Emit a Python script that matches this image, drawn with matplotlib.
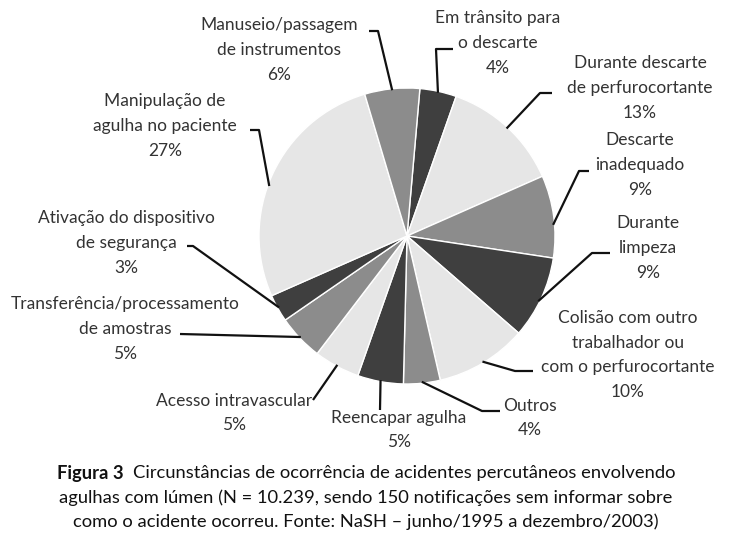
"""Pie chart: circumstances of percutaneous injuries with hollow-bore needles."""

import numpy as np
import matplotlib
matplotlib.use("Agg")
import matplotlib.pyplot as plt

W, H = 731, 544

labels = [
    "Em trânsito para\no descarte\n4%",
    "Durante descarte\nde perfurocortante\n13%",
    "Descarte\ninadequado\n9%",
    "Durante\nlimpeza\n9%",
    "Colisão com outro\ntrabalhador ou\ncom o perfurocortante\n10%",
    "Outros\n4%",
    "Reencapar agulha\n5%",
    "Acesso intravascular\n5%",
    "Transferência/processamento\nde amostras\n5%",
    "Ativação do dispositivo\nde segurança\n3%",
    "Manipulação de\nagulha no paciente\n27%",
    "Manuseio/passagem\nde instrumentos\n6%",
]
values = [4, 13, 9, 9, 10, 4, 5, 5, 5, 3, 27, 6]
shades = ["dark", "light", "medium", "dark", "light", "medium",
          "dark", "light", "medium", "dark", "light", "medium"]

palette = {"light": "#e6e6e6", "medium": "#8c8c8c", "dark": "#3f3f3f"}

# layout in image pixels (x, y from top)
center = (407, 236)
radius = 148
start_angle = 85
# text centre, elbow point, end of the short horizontal tick (None = no tick),
# and where along the wedge (0..1) the leader touches it
label_layout = [
    ((498, 43), (436, 49), (453, 49), 0.5),
    ((640, 88), (540, 93), (552, 93), 0.5),
    ((640, 165), (579, 171), (589, 171), 0.4),
    ((648, 248), (592, 253), (610, 253), 0.45),
    ((628, 355), (515, 371), (533, 371), 0.5),
    ((530, 418), (482, 411), (500, 411), 0.5),
    ((399, 430), (380, 410), None, 0.5),
    ((234, 413), (313, 400), None, 0.5),
    ((125, 329), (180, 334), None, 0.5),
    ((126, 243), (193, 246), (187, 246), 0.5),
    ((165, 126), (259, 130), (250, 130), 0.55),
    ((279, 50), (378, 31), (369, 31), 0.5),
]

plt.rcParams["font.family"] = ["Lato", "DejaVu Sans"]


def img(x, y):
    return x, H - y


fig = plt.figure(figsize=(W / 100, H / 100), dpi=100)
ax = fig.add_axes([0, 0, 1, 1])

wedges, _ = ax.pie(
    values,
    colors=[palette[s] for s in shades],
    startangle=start_angle,
    counterclock=False,
    center=img(*center),
    radius=radius,
    wedgeprops=dict(edgecolor="white", linewidth=1),
    frame=True,
)
ax.set_xlim(0, W)
ax.set_ylim(0, H)
ax.set_aspect("equal")
ax.axis("off")

cx, cy = img(*center)
for w, lab, (txt, elbow, tick, frac) in zip(wedges, labels, label_layout):
    ang = np.deg2rad(w.theta1 + frac * (w.theta2 - w.theta1))
    ex, ey = cx + radius * 0.99 * np.cos(ang), cy + radius * 0.99 * np.sin(ang)
    pts = [(ex, ey), img(*elbow)]
    if tick is not None:
        pts.append(img(*tick))
    xs, ys = zip(*pts)
    ax.plot(xs, ys, color="#111111", lw=1.6, solid_capstyle="butt")
    ax.text(*img(*txt), lab, ha="center", va="center", fontsize=12.5,
            color="#333333", linespacing=1.68)

# caption
cap_lines = [
    "Circunstâncias de ocorrência de acidentes percutâneos envolvendo",
    "agulhas com lúmen (N = 10.239, sendo 150 notificações sem informar sobre",
    "como o acidente ocorreu. Fonte: NaSH – junho/1995 a dezembro/2003)",
]
cap_y = [473, 498, 522]
fs_cap = 13.2
renderer = fig.canvas.get_renderer()
bold = ax.text(0, 0, "Figura 3  ", fontsize=fs_cap, fontweight="bold",
               va="center", ha="left", color="#111111")
rest = ax.text(0, 0, cap_lines[0], fontsize=fs_cap, va="center", ha="left",
               color="#111111")
bw = bold.get_window_extent(renderer).width
rw = rest.get_window_extent(renderer).width
x0 = 366 - (bw + rw) / 2
bold.set_position(img(x0, cap_y[0]))
rest.set_position(img(x0 + bw, cap_y[0]))
for line, y in zip(cap_lines[1:], cap_y[1:]):
    ax.text(*img(366, y), line, fontsize=fs_cap, ha="center", va="center",
            color="#111111")

fig.savefig("out.png", dpi=100, facecolor="white")
